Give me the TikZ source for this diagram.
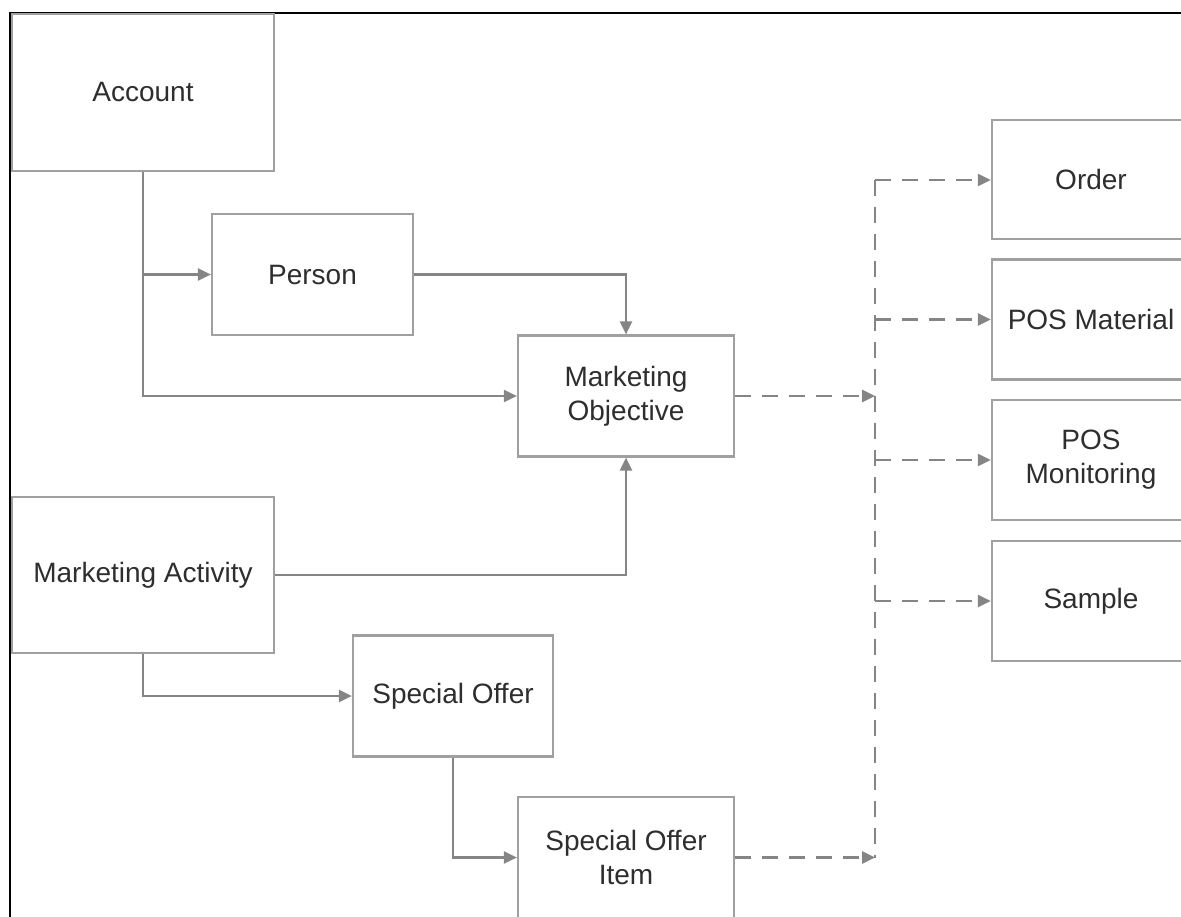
\documentclass[tikz,border=0pt]{standalone}
\usepackage{fontspec}
\setmainfont{Liberation Sans}
\usetikzlibrary{arrows.meta}
\definecolor{boxline}{HTML}{A0A0A0}
\definecolor{wire}{HTML}{858585}
\definecolor{label}{HTML}{2E2E2E}
\begin{document}
\begin{tikzpicture}[x=1pt,y=-1pt,
  entity/.style={draw=boxline,line width=2.2pt,fill=white,inner sep=0pt,
    align=center,text=label,font=\fontsize{28}{34}\selectfont},
  link/.style={draw=wire,line width=2.2pt,-{Triangle[length=13pt,width=12pt]}},
  dlink/.style={link,line width=2.6pt,dash pattern=on 16pt off 11pt},
  bus/.style={draw=wire,line width=2.6pt,dash pattern=on 16pt off 11pt}]
\useasboundingbox (0,0) rectangle (1181,916);
\clip (0,0) rectangle (1181,916);
% outer frame
\draw[line width=2.8pt,black] (1185,13) -- (10,13) -- (10,920);
% entities
\node[entity,minimum width=262pt,minimum height=157pt] (acc) at (143,92.5) {Account};
\node[entity,minimum width=201pt,minimum height=121pt] (per) at (312.5,274.5) {Person};
\node[entity,minimum width=216pt,minimum height=121pt] (mo) at (626,396) {Marketing\\Objective};
\node[entity,minimum width=262pt,minimum height=156pt] (ma) at (143,575) {Marketing Activity};
\node[entity,minimum width=200pt,minimum height=121pt] (so) at (453,696) {Special Offer};
\node[entity,minimum width=216pt,minimum height=121pt] (soi) at (626,857.5) {Special Offer\\Item};
\node[entity,minimum width=198pt,minimum height=119pt] (ord) at (1091,179.5) {Order};
\node[entity,minimum width=198pt,minimum height=120pt] (pm) at (1091,319.5) {POS Material};
\node[entity,minimum width=198pt,minimum height=120pt] (pmon) at (1091,460) {POS\\Monitoring};
\node[entity,minimum width=198pt,minimum height=120pt] (smp) at (1091,601) {Sample};
% solid links
\draw[link] (acc.south) |- (mo.west);
\draw[link] (acc.south |- per.west) -- (per.west);
\draw[link] (per.east) -| (mo.north);
\draw[link] (ma.east) -| (mo.south);
\draw[link] (ma.south) |- (so.west);
\draw[link] (so.south) |- (soi.west);
% dashed distribution bus
\coordinate (bt) at (875,180);
\coordinate (bb) at (875,857.5);
\draw[bus] (bt) -- (bb);
\draw[dlink] (mo.east) -- (mo.east -| bt);
\draw[dlink] (soi.east) -- (bb);
\draw[dlink] (bt) -- (bt -| ord.west);
\draw[dlink] (bt |- pm.west) -- (pm.west);
\draw[dlink] (bt |- pmon.west) -- (pmon.west);
\draw[dlink] (bt |- smp.west) -- (smp.west);
\end{tikzpicture}
\end{document}
